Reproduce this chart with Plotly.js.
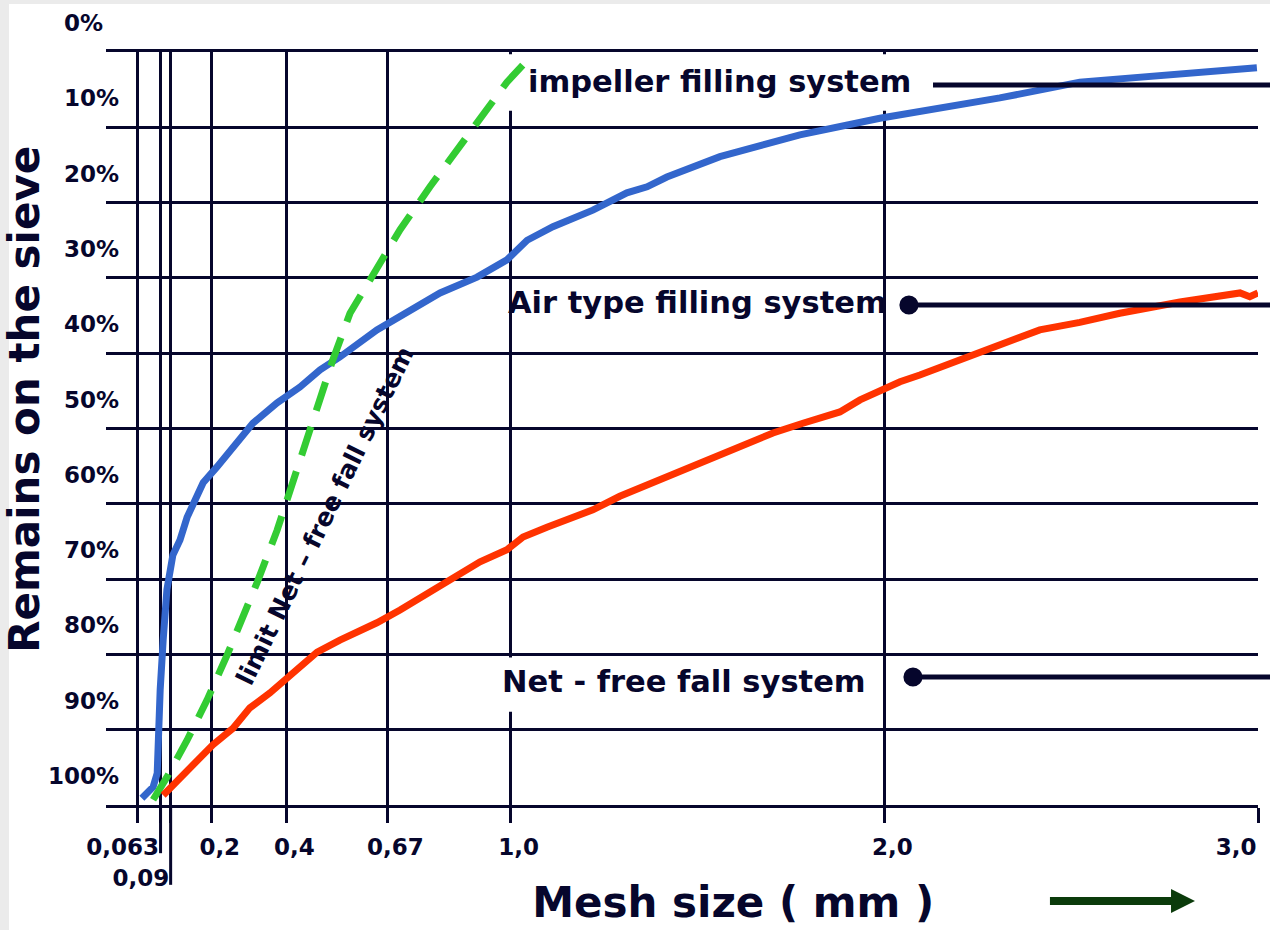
<!DOCTYPE html>
<html>
<head>
<meta charset="utf-8">
<script src="https://cdn.plot.ly/plotly-3.0.1.min.js"></script>
<style>
  html, body { margin: 0; padding: 0; background: #ebebeb; }
  #chart { width: 1270px; height: 930px; }
</style>
</head>
<body>
<div id="chart"></div>
<script>
// ---------- data ----------
const sieveSizes  = [0, 0.063, 0.09, 0.2, 0.4, 0.67, 1.0, 2.0, 3.0];
const sieveLabels = ['', '0,063', '0,09', '0,2', '0,4', '0,67', '1,0', '2,0', '3,0'];
const percentTicks  = [0, 10, 20, 30, 40, 50, 60, 70, 80, 90, 100];
const percentLabels = ['0%', '10%', '20%', '30%', '40%', '50%', '60%', '70%', '80%', '90%', '100%'];

// impeller filling system (blue)
const impellerMesh = [0.013, 0.043, 0.054, 0.056, 0.062, 0.070, 0.080, 0.096, 0.115, 0.134, 0.177, 0.214, 0.257, 0.310, 0.375, 0.436, 0.490, 0.543, 0.642, 0.722, 0.811, 0.910, 0.990, 1.044, 1.113, 1.220, 1.311, 1.365, 1.418, 1.560, 1.774, 1.988, 2.130, 2.309, 2.523, 2.711, 2.845, 2.997];
const impellerRemain = [99.1, 97.6, 95.8, 91.4, 84.7, 78.1, 71.4, 66.8, 64.8, 61.8, 57.2, 55.1, 52.5, 49.3, 46.6, 44.5, 42.2, 40.5, 36.9, 34.7, 32.0, 29.9, 27.6, 25.0, 23.2, 21.0, 18.7, 17.9, 16.6, 13.9, 11.0, 8.8, 7.7, 6.1, 4.0, 3.2, 2.8, 2.1];

// air type filling system (red)
const airMesh = [0.070, 0.142, 0.203, 0.257, 0.302, 0.356, 0.428, 0.482, 0.543, 0.642, 0.704, 0.811, 0.918, 0.990, 1.033, 1.097, 1.220, 1.292, 1.365, 1.434, 1.507, 1.587, 1.702, 1.782, 1.881, 1.935, 1.988, 2.042, 2.095, 2.202, 2.309, 2.416, 2.523, 2.630, 2.791, 2.952, 2.978, 3.000];
const airRemain = [98.7, 95.1, 92.0, 89.8, 87.1, 85.1, 82.1, 79.7, 78.1, 75.8, 74.1, 71.0, 67.7, 66.1, 64.4, 63.1, 60.8, 59.0, 57.5, 56.2, 54.6, 53.1, 50.6, 49.3, 47.8, 46.2, 44.9, 43.8, 42.9, 40.9, 39.0, 36.9, 35.9, 34.7, 33.2, 32.0, 32.5, 32.0];

// limit Net - free fall system (green dashed)
const limitMesh = [0.043, 0.080, 0.134, 0.187, 0.241, 0.276, 0.321, 0.375, 0.428, 0.482, 0.524, 0.570, 0.642, 0.704, 0.784, 0.864, 0.937, 0.990, 1.057];
const limitRemain = [99.3, 96.3, 91.4, 86.1, 80.1, 76.1, 70.5, 63.5, 55.5, 47.9, 40.9, 34.7, 28.6, 23.6, 17.9, 12.6, 7.7, 4.0, 0.4];

// ---------- style ----------
const INK = '#06062c';
const FONT = 'DejaVu Sans';
const nb = n => '\u00a0'.repeat(n);
const lead = n => '\u200b' + nb(n);   // zero-width anchor keeps the leading spaces from being trimmed
const X_RANGE = [-0.083, 3.0];
const tickFont = { family: FONT, size: 23, color: INK, weight: 'bold' };

// which labels go on which x axis (all three axes share one scale):
// main axis: centred labels; axis 2: labels left of their tick; axis 3: left of tick, second row
const labelAxis = [1, 2, 3, 1, 1, 1, 1, 1, 2];
const labelsFor = n => sieveLabels.map((t, i) => labelAxis[i] === n ? t : '');
const yTickText = percentLabels.map((t, i) => i === 0 ? t + nb(2) : t);

const helperAxis = (n, standoff) => ({
  overlaying: 'x', anchor: 'y', side: 'bottom',
  range: X_RANGE, autorange: false,
  tickmode: 'array', tickvals: sieveSizes, ticktext: labelsFor(n),
  tickangle: 0, ticklabeloverflow: 'allow', ticklabelposition: 'outside left',
  showgrid: false, zeroline: false, showline: false,
  ticks: 'outside', ticklen: 15, tickwidth: 3, tickcolor: 'rgba(0,0,0,0)',
  ticklabelstandoff: standoff,
  tickfont: tickFont
});

const traces = [
  { x: impellerMesh, y: impellerRemain, type: 'scatter', mode: 'lines', name: 'impeller filling system',
    xaxis: 'x', yaxis: 'y',
    line: { color: '#3366cc', width: 7 }, showlegend: false, hoverinfo: 'skip' },
  { x: airMesh, y: airRemain, type: 'scatter', mode: 'lines', name: 'Air type filling system',
    xaxis: 'x3', yaxis: 'y',
    line: { color: '#ff3300', width: 7 }, showlegend: false, hoverinfo: 'skip' },
  { x: limitMesh, y: limitRemain, type: 'scatter', mode: 'lines', name: 'limit Net - free fall system',
    xaxis: 'x2', yaxis: 'y',
    line: { color: '#33cc33', width: 7, dash: '30px,17px' }, showlegend: false, hoverinfo: 'skip' }
];

const leader = (x0, y0, withDot) => {
  const out = [{ type: 'line', xref: 'paper', yref: 'paper', x0: x0, x1: 1.02, y0: y0, y1: y0,
                 line: { color: INK, width: 5 }, layer: 'above' }];
  if (withDot) out.push({ type: 'circle', xref: 'paper', yref: 'paper',
                 x0: x0 - 0.0083, x1: x0 + 0.0083, y0: y0 - 0.0126, y1: y0 + 0.0126,
                 fillcolor: INK, line: { color: INK, width: 0 }, layer: 'above' });
  return out;
};

const shapes = [
  // white page over grey frame
  { type: 'rect', xref: 'paper', yref: 'paper', x0: -0.0842, x1: 1.02, y0: -0.17, y1: 1.0637,
    fillcolor: '#ffffff', line: { width: 0 }, layer: 'below' },
  // white label boxes hiding grid lines
  { type: 'rect', xref: 'x', yref: 'y', x0: 0.97, x1: 2.13, y0: 0.3, y1: 7.8,
    fillcolor: '#ffffff', line: { width: 0 }, layer: 'between' },
  { type: 'rect', xref: 'x', yref: 'y', x0: 0.96, x1: 1.98, y0: 80.4, y1: 87.6,
    fillcolor: '#ffffff', line: { width: 0 }, layer: 'between' },
  // extended leader ticks for the two finest sieves
  { type: 'line', xref: 'x', yref: 'paper', x0: sieveSizes[1], x1: sieveSizes[1], y0: 0, y1: -0.064,
    line: { color: INK, width: 3 } },
  { type: 'line', xref: 'x', yref: 'paper', x0: sieveSizes[2], x1: sieveSizes[2], y0: 0, y1: -0.106,
    line: { color: INK, width: 3 } },
  ...leader(0.7179, 0.9562, false),
  ...leader(0.6970, 0.6640, true),
  ...leader(0.7005, 0.1700, true),
  // dark green arrow
  { type: 'path', xref: 'paper', yref: 'paper',
    path: 'M 0.8194 -0.1222 L 0.9245 -0.1222 L 0.9245 -0.1116 L 0.9453 -0.1275 L 0.9245 -0.1434 L 0.9245 -0.1328 L 0.8194 -0.1328 Z',
    fillcolor: '#0b3b0b', line: { width: 0 }, layer: 'above' }
];

const labelFont = { family: FONT, size: 30.5, color: INK, weight: 'bold' };
const annotations = [
  { text: 'impeller filling system', xref: 'x', yref: 'y', x: 1.560, y: 3.9, showarrow: false, font: labelFont },
  { text: 'Air type filling system', xref: 'x', yref: 'y', x: 1.501, y: 33.3, showarrow: false, font: labelFont },
  { text: 'Net - free fall system', xref: 'x', yref: 'y', x: 1.464, y: 83.6, showarrow: false, font: labelFont },
  { text: 'limit Net \u2013 free fall system', xref: 'x', yref: 'y', x: 0.503, y: 61.5, showarrow: false,
    textangle: -64, font: { family: FONT, size: 25, color: INK, weight: 'bold' } }
];

const layout = {
  width: 1270, height: 930,
  margin: { l: 106, r: 12, t: 52, b: 125, pad: 0 },
  paper_bgcolor: '#ebebeb',
  plot_bgcolor: '#ffffff',
  showlegend: false,
  xaxis: {
    range: X_RANGE, autorange: false,
    tickmode: 'array', tickvals: sieveSizes, ticktext: labelsFor(1),
    tickangle: 0, ticklabeloverflow: 'allow', ticklabelshift: 8,
    showgrid: true, gridcolor: INK, gridwidth: 3, zeroline: false,
    showline: true, linecolor: INK, linewidth: 3, mirror: true,
    ticks: 'outside', ticklen: 15, tickwidth: 3, tickcolor: INK,
    ticklabelstandoff: 4,
    tickfont: tickFont,
    title: { text: lead(7) + 'Mesh size ( mm )', font: { family: FONT, size: 42, color: INK, weight: 'bold' }, standoff: 30 }
  },
  xaxis2: helperAxis(2, 21),
  xaxis3: helperAxis(3, 52),
  yaxis: {
    range: [100, 0], autorange: false,
    tickmode: 'array', tickvals: percentTicks, ticktext: yTickText,
    showgrid: true, gridcolor: INK, gridwidth: 3, zeroline: false,
    showline: false, ticks: '',
    ticklabelstandoff: -14, ticklabelshift: 29,
    tickfont: tickFont,
    title: { text: lead(4) + 'Remains on the sieve', font: { family: FONT, size: 42, color: INK, weight: 'bold' }, standoff: 2 }
  },
  shapes: shapes,
  annotations: annotations
};

Plotly.newPlot('chart', traces, layout, { displayModeBar: false, staticPlot: true });
</script>
</body>
</html>
